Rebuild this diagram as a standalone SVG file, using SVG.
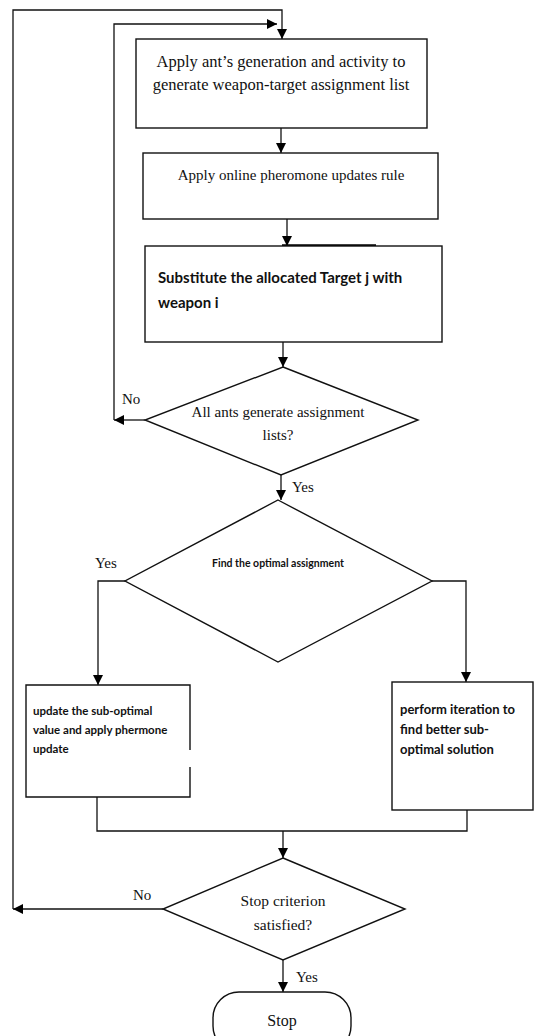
<svg xmlns="http://www.w3.org/2000/svg" width="534" height="1036" viewBox="0 0 534 1036">
<defs>
<marker id="ah" viewBox="0 0 10 10" refX="10" refY="5" markerWidth="10" markerHeight="10" markerUnits="userSpaceOnUse" orient="auto">
<path d="M0,0 L10,5 L0,10 Z" fill="#000"/>
</marker>
<style>
.shape{fill:#fff;stroke:#111;stroke-width:1.4}
.ln{fill:none;stroke:#111;stroke-width:1.3}
.serif{font-family:"Liberation Serif","Times New Roman",serif;fill:#111}
.sans{font-family:Lato,"Open Sans",sans-serif;font-weight:bold;fill:#111}
</style>
</defs>
<rect width="534" height="1036" fill="#fff"/>
<g id="connectors">
<path class="ln" d="M13,909 L13,10 L282,10 L282,39" marker-end="url(#ah)"/>
<path class="ln" d="M114,420 L114,24 L277,24" marker-end="url(#ah)"/>
<path class="ln" d="M281,128 L281,153" marker-end="url(#ah)"/>
<path class="ln" d="M287,219 L287,246" marker-end="url(#ah)"/>
<path d="M282,246 L376,246" stroke="#000" stroke-width="3.5"/>
<path class="ln" d="M283,342 L283,367" marker-end="url(#ah)"/>
<path class="ln" d="M145,420 L114,420" marker-end="url(#ah)"/>
<path class="ln" d="M281,475 L281,500" marker-end="url(#ah)"/>
<path class="ln" d="M125,581 L98,581 L98,685" marker-end="url(#ah)"/>
<path class="ln" d="M432,581 L466,581 L466,682" marker-end="url(#ah)"/>
<path class="ln" d="M97,797 L97,831 L467,831 L467,810"/>
<path class="ln" d="M283,831 L283,858" marker-end="url(#ah)"/>
<path class="ln" d="M163,909 L13,909" marker-end="url(#ah)"/>
<path class="ln" d="M283,960 L283,992" marker-end="url(#ah)"/>
</g>
<g id="box1">
<rect class="shape" x="136" y="39" width="291" height="89"/>
<text class="serif" font-size="16.5" text-anchor="middle" x="281" y="67">Apply ant’s generation and activity to</text>
<text class="serif" font-size="16.5" text-anchor="middle" x="281" y="90">generate weapon-target assignment list</text>
</g>
<g id="box2">
<rect class="shape" x="143" y="153" width="295" height="66"/>
<text class="serif" font-size="15" text-anchor="middle" x="291" y="180">Apply online pheromone updates rule</text>
</g>
<g id="box3">
<rect class="shape" x="145" y="246" width="297" height="96"/>
<text class="sans" font-size="15" x="158" y="283">Substitute the allocated Target j with</text>
<text class="sans" font-size="15" x="158" y="308">weapon i</text>
</g>
<g id="decision1">
<polygon class="shape" points="283,367 418,420 281,475 145,420"/>
<text class="serif" font-size="15" text-anchor="middle" x="278" y="417">All ants generate assignment</text>
<text class="serif" font-size="15" text-anchor="middle" x="278" y="440">lists?</text>
<text class="serif" font-size="15" x="122" y="404">No</text>
<text class="serif" font-size="15" x="292" y="492">Yes</text>
</g>
<g id="decision2">
<polygon class="shape" points="278,500 432,581 278,662 125,581"/>
<text class="sans" font-size="10.5" text-anchor="middle" x="278" y="567">Find the optimal assignment</text>
<text class="serif" font-size="15" x="95" y="568">Yes</text>
</g>
<g id="boxL">
<path class="shape" d="M190,750 L190,685 L26,685 L26,797 L190,797 L190,767"/>
<text class="sans" font-size="11.5" x="33" y="715">update the sub-optimal</text>
<text class="sans" font-size="11.5" x="33" y="734">value and apply phermone</text>
<text class="sans" font-size="11.5" x="33" y="753">update</text>
</g>
<g id="boxR">
<rect class="shape" x="392" y="682" width="141" height="128"/>
<text class="sans" font-size="13" x="400" y="714">perform iteration to</text>
<text class="sans" font-size="13" x="400" y="734">find better sub-</text>
<text class="sans" font-size="13" x="400" y="754">optimal solution</text>
</g>
<g id="decision3">
<polygon class="shape" points="283,858 405,909 283,960 163,909"/>
<text class="serif" font-size="15.5" text-anchor="middle" x="283" y="906">Stop criterion</text>
<text class="serif" font-size="15.5" text-anchor="middle" x="283" y="930">satisfied?</text>
<text class="serif" font-size="15" x="133" y="900">No</text>
<text class="serif" font-size="15" x="296" y="982">Yes</text>
</g>
<g id="stop">
<rect class="shape" x="213" y="992" width="138" height="60" rx="26" ry="26"/>
<text class="serif" font-size="16" text-anchor="middle" x="282" y="1026">Stop</text>
</g>
</svg>
